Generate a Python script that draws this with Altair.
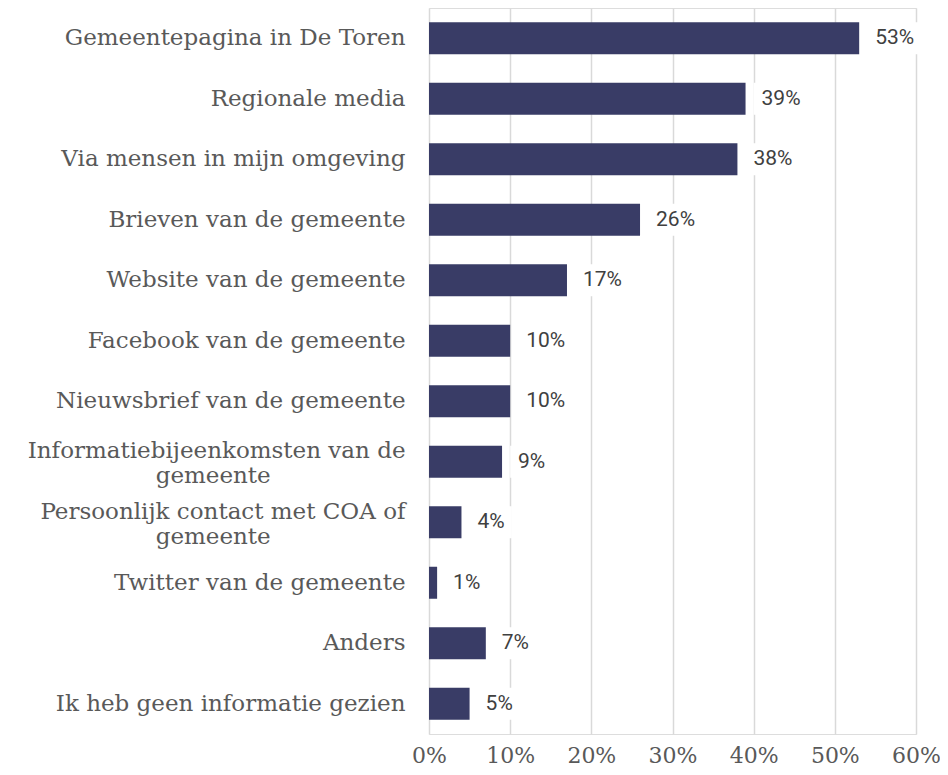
import altair as alt
import pandas as pd

categories = [
    "Gemeentepagina in De Toren",
    "Regionale media",
    "Via mensen in mijn omgeving",
    "Brieven van de gemeente",
    "Website van de gemeente",
    "Facebook van de gemeente",
    "Nieuwsbrief van de gemeente",
    "Informatiebijeenkomsten van de|gemeente",
    "Persoonlijk contact met COA of|gemeente",
    "Twitter van de gemeente",
    "Anders",
    "Ik heb geen informatie gezien",
]
values = [53, 39, 38, 26, 17, 10, 10, 9, 4, 1, 7, 5]
x_ticks = [0, 10, 20, 30, 40, 50, 60]

BLANK = "\u2800"  # blank glyph (not whitespace, so it is not trimmed)


def centre_wrap(label):
    # pad the shorter second line so it looks centred under the first line
    parts = label.split("|")
    if len(parts) == 1:
        return label
    first, second = parts
    pad = round((len(first) - len(second)) * 0.52 * 23 / 2 / 16.7)
    return first + "|" + second + BLANK * pad


labels = [centre_wrap(c) for c in categories]

df = pd.DataFrame({"cat": labels, "value": values})
df["txt"] = df["value"].astype(str) + "%"

FONT_SERIF = "DejaVu Serif"
BAR_COLOR = "#393c66"

y_enc = alt.Y(
    "cat:N",
    sort=labels,
    title=None,
    scale=alt.Scale(paddingInner=0.47, paddingOuter=0.235),
    axis=alt.Axis(
        labelExpr="split(datum.label, '|')",
        labelFont=FONT_SERIF,
        labelFontSize=23,
        labelColor="#595959",
        labelPadding=24,
        labelLineHeight=25,
        labelLimit=600,
        labelOffset={
            "condition": {"test": "indexof(datum.label, '|') >= 0", "value": -10.5},
            "value": 0,
        },
        ticks=False,
        domain=False,
        grid=False,
    ),
)

x_enc = alt.X(
    "value:Q",
    title=None,
    scale=alt.Scale(domain=[0, 60], nice=False),
    axis=alt.Axis(
        values=x_ticks,
        labelExpr="datum.value + '%'",
        labelFont=FONT_SERIF,
        labelFontSize=22,
        labelColor="#595959",
        labelPadding=11,
        labelFlush=False,
        ticks=False,
        domain=False,
        grid=True,
        gridColor="#d9d9d9",
        gridWidth=1.5,
    ),
)

base = alt.Chart(df)

bars = base.mark_bar(color=BAR_COLOR, size=32).encode(x=x_enc, y=y_enc)

boxes = (
    base.transform_calculate(
        bx="datum.value + 1",
        bx2="datum.value + 1 + (length(datum.txt) > 2 ? 6.7 : 5.2)",
    )
    .mark_bar(color="white", size=32)
    .encode(x="bx:Q", x2="bx2:Q", y=alt.Y("cat:N", sort=labels))
)

texts = base.mark_text(
    align="left", baseline="middle", dx=16, font="Roboto", fontSize=21, color="#404040"
).encode(x="value:Q", y=alt.Y("cat:N", sort=labels), text="txt:N")

chart = (
    alt.layer(bars, boxes, texts)
    .properties(
        width=487,
        height=726,
        autosize=alt.AutoSizeParams(type="none"),
        padding={"left": 421, "top": 0, "right": 24, "bottom": 33},
    )
    .configure_view(stroke=None)
    .configure(background="white")
)

chart.save("out.html", embed_options={"renderer": "svg", "actions": False})
